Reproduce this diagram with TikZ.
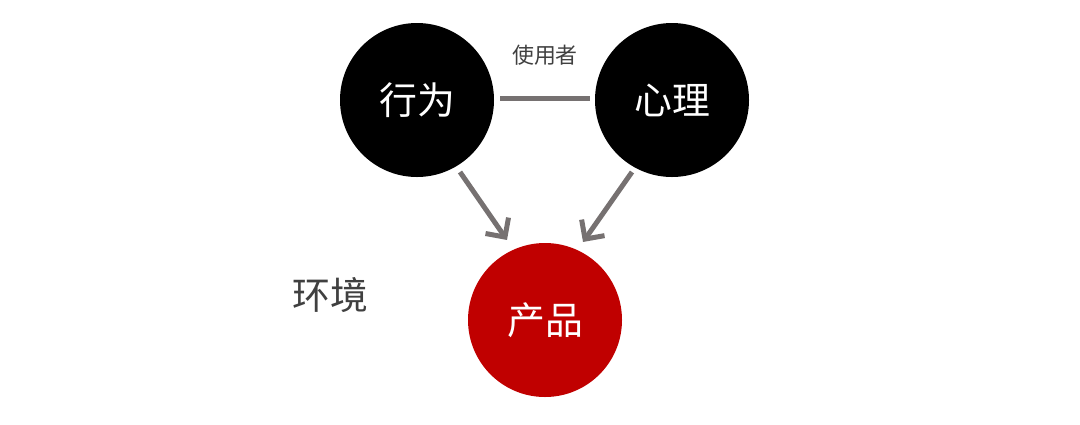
\documentclass[tikz,border=0pt]{standalone}
\usepackage{fontspec}
\newfontfamily\cjk{Noto Sans CJK SC}
\usetikzlibrary{arrows.meta}
\definecolor{dred}{RGB}{192,0,0}
\definecolor{lgray}{RGB}{118,113,113}
\begin{document}
\begin{tikzpicture}[x=1bp,y=-1bp,
  ball/.style={circle,minimum size=154bp,inner sep=0,text=white,font=\cjk\fontsize{38}{40}\selectfont},
  conn/.style={draw=lgray,line width=5bp},
  arr/.style={conn,-{Straight Barb[length=14bp,width=28bp,line width=5bp]}}]
\useasboundingbox (0,0) rectangle (1080,424);
\node[ball,fill=black] (a) at (417,100) {行为};
\node[ball,fill=black] (b) at (672,100) {心理};
\node[ball,fill=dred] (c) at (545,320) {产品};
\node[font=\cjk\fontsize{22}{24}\selectfont,text=black!75] (u) at (545,55) {使用者};
\node[font=\cjk\fontsize{38}{40}\selectfont,text=black!75] (e) at (330,295) {环境};
\coordinate (l1) at (500,98); \coordinate (l2) at (590,98);
\draw[conn] (l1) -- (l2);
\coordinate (a1) at (460,172); \coordinate (a2) at (507,240);
\coordinate (b1) at (632,172); \coordinate (b2) at (583,242);
\draw[arr] (a1) -- (a2);
\draw[arr] (b1) -- (b2);
\end{tikzpicture}
\end{document}
